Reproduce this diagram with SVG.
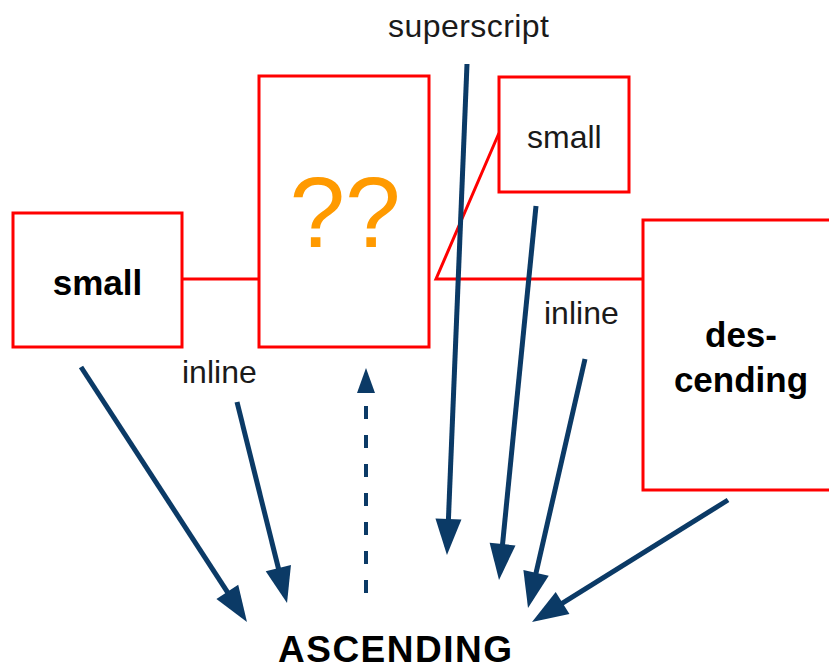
<svg xmlns="http://www.w3.org/2000/svg" width="829" height="671" viewBox="0 0 829 671">
  <style>
    .box { fill: #ffffff; stroke: #ff0000; stroke-width: 3; }
    .link { fill: none; stroke: #ff0000; stroke-width: 3; }
    .arrow { fill: none; stroke: #0b3a66; stroke-width: 5; marker-end: url(#head); }
    .dashed { fill: none; stroke: #0b3a66; stroke-width: 4; stroke-dasharray: 13 16; marker-end: url(#headSmall); }
    .bold { font-family: "Liberation Sans", Arial, sans-serif; font-weight: bold; font-size: 35px; fill: #000000; text-anchor: middle; }
    .title { font-family: "Liberation Sans", Arial, sans-serif; font-weight: bold; font-size: 37px; fill: #000000; text-anchor: middle; }
    .label { font-family: "Liberation Sans", Arial, sans-serif; font-size: 32px; fill: #1a1a1a; }
    .qq { font-family: "Liberation Sans", Arial, sans-serif; font-size: 100px; fill: #ff9a00; text-anchor: middle; }
  </style>
  <defs>
    <marker id="head" markerUnits="userSpaceOnUse" markerWidth="36" markerHeight="26" refX="28" refY="13" orient="auto" overflow="visible">
      <path d="M0,0 L36,13 L0,26 z" fill="#0b3a66"/>
    </marker>
    <marker id="headSmall" markerUnits="userSpaceOnUse" markerWidth="25" markerHeight="18" refX="19" refY="9" orient="auto" overflow="visible">
      <path d="M0,0 L25,9 L0,18 z" fill="#0b3a66"/>
    </marker>
  </defs>

  <rect width="829" height="671" fill="#ffffff"/>

  <!-- red tree links between the boxes -->
  <g id="links">
    <line class="link" x1="182" y1="279" x2="259" y2="279"/>
    <polyline class="link" points="499,133 436,279 643,279"/>
  </g>

  <g id="node-small-left">
    <rect class="box" x="13" y="213" width="169" height="134"/>
    <text class="bold" x="97.5" y="295">small</text>
  </g>

  <g id="node-unknown">
    <rect class="box" x="259" y="76" width="170" height="271"/>
    <text class="qq" x="345" y="247">??</text>
  </g>

  <g id="node-small-top">
    <rect class="box" x="499" y="77" width="130" height="115"/>
    <text class="label" x="527" y="148">small</text>
  </g>

  <g id="node-descending">
    <rect class="box" x="643" y="220" width="200" height="270"/>
    <text class="bold" x="741" y="347">des-</text>
    <text class="bold" x="741" y="392">cending</text>
  </g>

  <g id="node-ascending">
    <text class="title" x="395" y="662" textLength="234" lengthAdjust="spacing">ASCENDING</text>
  </g>

  <!-- blue connectors pointing at ASCENDING -->
  <g id="connectors">
    <line class="arrow" x1="81" y1="367" x2="242.6" y2="615.3"/>
    <line class="arrow" x1="237" y1="402" x2="285.1" y2="595.2"/>
    <line class="dashed" x1="366" y1="593" x2="366" y2="374"/>
    <line class="arrow" x1="467" y1="64" x2="447.3" y2="547"/>
    <line class="arrow" x1="536" y1="206" x2="499.8" y2="572"/>
    <line class="arrow" x1="585" y1="359" x2="529.8" y2="600.2"/>
    <line class="arrow" x1="728" y1="500" x2="538.8" y2="617.8"/>
    <text class="label" x="388" y="37" textLength="161" lengthAdjust="spacing">superscript</text>
    <text class="label" x="182" y="383">inline</text>
    <text class="label" x="544" y="324">inline</text>
  </g>
</svg>
